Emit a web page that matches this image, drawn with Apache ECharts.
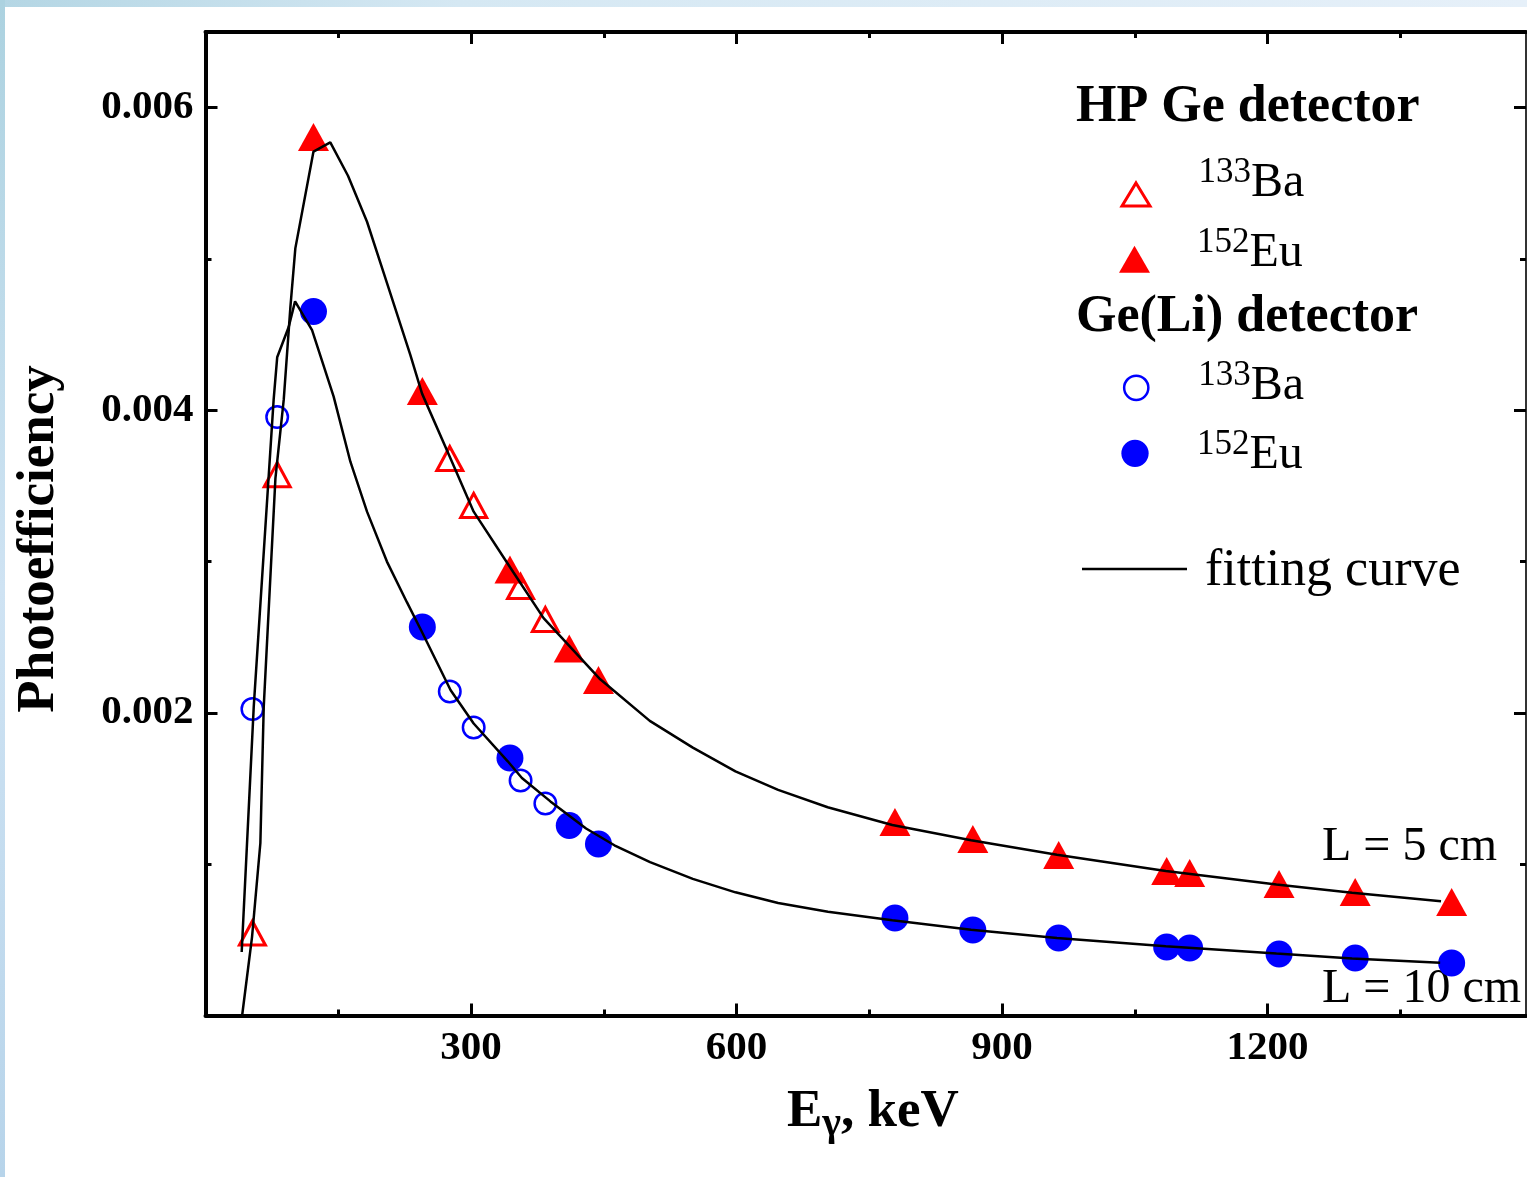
<!DOCTYPE html>
<html>
<head>
<meta charset="utf-8">
<script src="https://cdn.jsdelivr.net/npm/echarts@6/dist/echarts.min.js"></script>
<style>
html,body{margin:0;padding:0;background:#fff;}
#c{width:1527px;height:1177px;}
</style>
</head>
<body>
<div id="c"></div>
<script>
// ---------------- data ----------------
const energyBa = [53, 81, 276, 303, 356, 384];
const energyEu = [122, 245, 344, 411, 444, 779, 867, 964, 1086, 1112, 1213, 1299, 1408];

const hpgeBa = [0.000545, 0.003574, 0.003681, 0.003371, 0.002835, 0.002617];
const hpgeEu = [0.005806, 0.004127, 0.002948, 0.002426, 0.002217, 0.001279, 0.001166,
                0.001061, 0.000955, 0.000942, 0.000869, 0.000816, 0.000750];
const geliBa = [0.002026, 0.003955, 0.002141, 0.001903, 0.001553, 0.001401];
const geliEu = [0.004653, 0.002568, 0.001702, 0.001256, 0.001133, 0.000644, 0.000565,
                0.000512, 0.000453, 0.000446, 0.000406, 0.000380, 0.000347];

// fitting curve, L = 5 cm (HP Ge)
const fit5E = [41.4, 52.6, 62, 65.8, 79, 88.4, 95.9, 101.5, 122, 141, 161, 182.5, 205, 231.5,
               244.7, 276.6, 303, 348, 382, 446, 502, 550.6, 598.8, 647, 703, 776, 865, 962,
               1085, 1210, 1295.5, 1396];
const fit5V = [0, 0.00052, 0.00114, 0.00204, 0.00355, 0.00407, 0.00468, 0.00507, 0.00571,
               0.00577, 0.00555, 0.005246, 0.004842, 0.004364, 0.00411, 0.003684, 0.00333,
               0.002928, 0.002626, 0.002222, 0.001947, 0.00177, 0.001614, 0.001491, 0.001376,
               0.001259, 0.001158, 0.001062, 0.000955, 0.000866, 0.000812, 0.000755];
// fitting curve, L = 10 cm (Ge(Li))
const fit10E = [40.9, 54.5, 77, 81, 94, 101.2, 120.4, 144.8, 163.7, 182.5, 205, 227.7, 245,
                277, 303, 341.5, 357.5, 389.7, 430, 462, 502.3, 550.6, 598.8, 647, 703.3, 776,
                865, 962, 1085, 1210, 1295.5, 1395];
const fit10V = [0.00042, 0.00204, 0.00407, 0.00435, 0.00455, 0.00472, 0.00453, 0.00409,
                0.00366, 0.00333, 0.0030, 0.00273, 0.00253, 0.00215, 0.00193, 0.00168,
                0.00157, 0.001415, 0.001236, 0.001125, 0.001014, 0.000903, 0.000814,
                0.000744, 0.000686, 0.000629, 0.000567, 0.000512, 0.000457, 0.000409,
                0.000377, 0.000348];

const xMajorTicks = [300, 600, 900, 1200];
const xMinorTicks = [150, 450, 750, 1050, 1350];
const yMajorTicks = [0.002, 0.004, 0.006];
const yMinorTicks = [0.001, 0.003, 0.005];

// ---------------- chart ----------------
const FONT = '"Liberation Serif", "Times New Roman", Times, serif';
const zip = (xs, ys) => xs.map((x, i) => [x, ys[i]]);

function xAxisDef(position, ticks, len, showLabel, lineShow, lineWidth) {
  return {
    type: 'value', min: 0, max: 1492, position: position,
    splitLine: { show: false },
    axisLine: { show: lineShow, onZero: false, lineStyle: { color: '#000', width: lineWidth } },
    axisTick: { show: true, inside: true, length: len, customValues: ticks,
                lineStyle: { color: '#000', width: 3 } },
    axisLabel: { show: showLabel, customValues: ticks, margin: 12,
                 fontFamily: FONT, fontWeight: 'bold', fontSize: 41, color: '#000',
                 formatter: v => String(Math.round(v)) }
  };
}
function yAxisDef(position, ticks, len, showLabel, lineShow, lineWidth, lineColor) {
  return {
    type: 'value', min: 0, max: 0.0065, position: position,
    splitLine: { show: false },
    axisLine: { show: lineShow, onZero: false, lineStyle: { color: lineColor, width: lineWidth } },
    axisTick: { show: true, inside: true, length: len, customValues: ticks,
                lineStyle: { color: '#000', width: 3 } },
    axisLabel: { show: showLabel, customValues: ticks, margin: 12,
                 fontFamily: FONT, fontWeight: 'bold', fontSize: 41, color: '#000',
                 formatter: v => v.toFixed(3) }
  };
}

const legendDefs = [
  { name: 'HP Ge 133Ba', icon: 'triangle', w: 28, h: 23, cx: 1134.5, cy: 194.5, d: 2.2, tx: 1197, fs: 48,
    style: { color: 'rgba(0,0,0,0)', borderColor: '#ff0000', borderWidth: 3 }, label: '{g|}{s|133}{n|Ba}' },
  { name: 'HP Ge 152Eu', icon: 'triangle', w: 31, h: 27, cx: 1134.5, cy: 259.3, d: 7.4, tx: 1197, fs: 48,
    style: { color: '#ff0000', borderWidth: 0 }, label: '{g|}{s|152}{n|Eu}' },
  { name: 'Ge(Li) 133Ba', icon: 'circle', w: 24.2, h: 24.2, cx: 1135, cy: 387.8, d: 12.2, tx: 1197, fs: 48,
    style: { color: 'rgba(0,0,0,0)', borderColor: '#0000ff', borderWidth: 2.5 }, label: '{g|}{s|133}{n|Ba}' },
  { name: 'Ge(Li) 152Eu', icon: 'circle', w: 27.3, h: 27.3, cx: 1135, cy: 453.3, d: 15, tx: 1197, fs: 48,
    style: { color: '#0000ff', borderWidth: 0 }, label: '{g|}{s|152}{n|Eu}' },
  { name: 'fitting curve', icon: 'rect', w: 105, h: 2.5, cx: 1134.5, cy: 569, d: 14, tx: 1205, fs: 52,
    style: { color: '#000', borderWidth: 0 }, label: '{g|}{n|fitting curve}' }
];

function mkLegend(def) {
  const left = def.cx - def.w / 2;
  const L = 2 * (41.2 - def.d);
  const gw = def.tx - (left + def.w + 5);
  return {
    orient: 'vertical', left: left, top: def.cy - L / 2, padding: 0, itemGap: 0,
    selectedMode: false, itemWidth: def.w, itemHeight: def.h,
    data: [{ name: def.name, icon: def.icon, itemStyle: def.style }],
    formatter: () => def.label,
    textStyle: {
      fontFamily: FONT, fontSize: 48, color: '#000',
      rich: {
        g: { width: gw, lineHeight: L },
        s: { fontFamily: FONT, fontSize: 35, lineHeight: 29, verticalAlign: 'top', color: '#000' },
        n: { fontFamily: FONT, fontSize: def.fs, lineHeight: 50, verticalAlign: 'top', color: '#000',
             padding: [4, 0, 0, 0] }
      }
    }
  };
}

const chart = echarts.init(document.getElementById('c'), null, { renderer: 'canvas' });
const option = {
  animation: false,
  backgroundColor: '#ffffff',
  grid: { left: 205.5, top: 32, width: 1320.5, height: 983.5 },
  xAxis: [
    xAxisDef('bottom', xMajorTicks, 12, true, true, 4),
    xAxisDef('bottom', xMinorTicks, 6, false, false, 0),
    xAxisDef('top', xMajorTicks, 12, false, true, 4),
    xAxisDef('top', xMinorTicks, 6, false, false, 0)
  ],
  yAxis: [
    yAxisDef('left', yMajorTicks, 12, true, true, 4, '#000'),
    yAxisDef('left', yMinorTicks, 6, false, false, 0, '#000'),
    yAxisDef('right', yMajorTicks, 12, false, true, 2, '#333'),
    yAxisDef('right', yMinorTicks, 6, false, false, 0, '#333')
  ],
  legend: legendDefs.map(mkLegend),
  graphic: [
    { type: 'rect', z: -1, shape: { x: 0, y: 0, width: 1527, height: 7 },
      style: { fill: { type: 'linear', x: 0, y: 0, x2: 1, y2: 0,
        colorStops: [{ offset: 0, color: '#b4d6e4' }, { offset: 0.3, color: '#d5e8f3' }, { offset: 1, color: '#e6f0f9' }] } } },
    { type: 'rect', z: -1, shape: { x: 0, y: 0, width: 5, height: 1177 },
      style: { fill: { type: 'linear', x: 0, y: 0, x2: 0, y2: 1,
        colorStops: [{ offset: 0, color: '#acd2e0' }, { offset: 0.5, color: '#cfe3f3' }, { offset: 1, color: '#b7d4ea' }] } } },
    { type: 'text', x: 1076, y: 107.5,
      style: { text: 'HP Ge detector', fontFamily: FONT, fontWeight: 'bold', fontSize: 52,
               fill: '#000', align: 'left', verticalAlign: 'middle' } },
    { type: 'text', x: 1076, y: 317.5,
      style: { text: 'Ge(Li) detector', fontFamily: FONT, fontWeight: 'bold', fontSize: 52,
               fill: '#000', align: 'left', verticalAlign: 'middle' } },
    { type: 'text', x: 1322, y: 847.5,
      style: { text: 'L = 5 cm', fontFamily: FONT, fontSize: 48, fill: '#000',
               align: 'left', verticalAlign: 'middle' } },
    { type: 'text', x: 1322, y: 989,
      style: { text: 'L = 10 cm', fontFamily: FONT, fontSize: 48, fill: '#000',
               align: 'left', verticalAlign: 'middle' } },
    { type: 'text', x: 39, y: 539, rotation: Math.PI / 2,
      style: { text: 'Photoefficiency', fontFamily: FONT, fontWeight: 'bold', fontSize: 53,
               fill: '#000', align: 'center', verticalAlign: 'middle' } },
    { type: 'text', x: 787, y: 1086,
      style: { text: '{a|E}{b|γ}{a|, keV}', align: 'left', verticalAlign: 'top', fill: '#000',
               rich: {
                 a: { fontFamily: FONT, fontWeight: 'bold', fontSize: 53, lineHeight: 58.7, verticalAlign: 'top', color: '#000' },
                 b: { fontFamily: FONT, fontWeight: 'bold', fontSize: 40, verticalAlign: 'bottom', color: '#000' }
               } } }
  ],
  series: [
    { name: 'HP Ge 133Ba', type: 'scatter', data: zip(energyBa, hpgeBa),
      symbol: 'triangle', symbolSize: [26, 24],
      itemStyle: { color: 'rgba(0,0,0,0)', borderColor: '#ff0000', borderWidth: 3, opacity: 1 } },
    { name: 'HP Ge 152Eu', type: 'scatter', data: zip(energyEu, hpgeEu),
      symbol: 'triangle', symbolSize: [31, 28],
      itemStyle: { color: '#ff0000', opacity: 1 } },
    { name: 'Ge(Li) 133Ba', type: 'scatter', data: zip(energyBa, geliBa),
      symbol: 'circle', symbolSize: 21.5,
      itemStyle: { color: 'rgba(0,0,0,0)', borderColor: '#0000ff', borderWidth: 2.5, opacity: 1 } },
    { name: 'Ge(Li) 152Eu', type: 'scatter', data: zip(energyEu, geliEu),
      symbol: 'circle', symbolSize: 27,
      itemStyle: { color: '#0000ff', opacity: 1 } },
    { name: 'fitting curve', type: 'line', data: zip(fit5E, fit5V),
      showSymbol: false, symbol: 'none', smooth: false,
      lineStyle: { color: '#000', width: 2.5 }, itemStyle: { color: '#000' } },
    { name: 'fitting curve', type: 'line', data: zip(fit10E, fit10V),
      showSymbol: false, symbol: 'none', smooth: false,
      lineStyle: { color: '#000', width: 2.5 }, itemStyle: { color: '#000' } }
  ]
};
chart.setOption(option);
</script>
</body>
</html>
